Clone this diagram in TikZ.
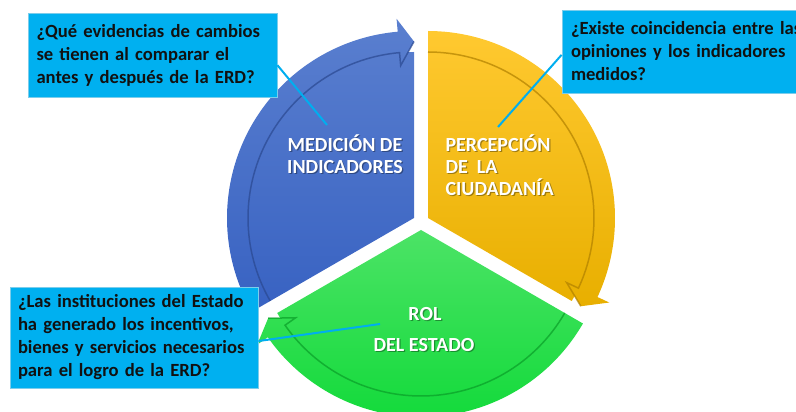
\documentclass[tikz,border=0pt]{standalone}
\usepackage{fontspec}
\setmainfont{Carlito}
\usetikzlibrary{calc}
\definecolor{cyanbox}{HTML}{00B0F0}
\definecolor{cyanedge}{HTML}{7CCDEB}
\definecolor{cyanline}{HTML}{00AEEF}
\definecolor{blueT}{HTML}{5A7FCF}
\definecolor{blueB}{HTML}{3862C2}
\definecolor{blueE}{HTML}{2A4890}
\definecolor{yellowT}{HTML}{FFC930}
\definecolor{yellowB}{HTML}{E8AF00}
\definecolor{yellowE}{HTML}{B08000}
\definecolor{greenT}{HTML}{4CE366}
\definecolor{greenB}{HTML}{12DA3A}
\definecolor{greenE}{HTML}{0A9E28}
\definecolor{boxtext}{HTML}{111111}
\tikzset{
  callout/.style={fill=cyanbox, draw=cyanedge, line width=0.8pt, text=boxtext,
    font=\bfseries\fontsize{18.6}{23}\selectfont, align=left, text width=232pt,
    inner ysep=4pt},
  calloutline/.style={draw=cyanline, line width=2pt},
  seglabel/.style={text=white, font=\bfseries\fontsize{20}{22}\selectfont},
  seglabelshadow/.style={text=black, opacity=0.35, font=\bfseries\fontsize{20}{22}\selectfont},
  edgeline/.style={line width=1.5pt, opacity=0.7},
}
\begin{document}
\begin{tikzpicture}[x=1pt,y=1pt]
\useasboundingbox (0,0) rectangle (796,412);
\clip (0,0) rectangle (796,412);
\coordinate (B) at (414,194);
\coordinate (Yv) at (428,194);
\coordinate (G) at (421,182);

% blue segment (arrow at 90 deg)
\shade[top color=blueT, bottom color=blueB]
  (B) -- ($(B)+(90:166)$) arc[start angle=90,end angle=210,radius=166] -- cycle
  ($(B)+(95:187)$) arc[start angle=95,end angle=210,radius=187]
  -- ($(B)+(210:166)$) arc[start angle=210,end angle=95,radius=166]
  -- ($(B)+(95:153)$) -- ($(B)+(90:176.5)$) -- ($(B)+(95:200)$) -- cycle;
\draw[edgeline, blueE] ($(B)+(210:166)$) arc[start angle=210,end angle=95,radius=166]
  -- ($(B)+(95:153)$) -- ($(B)+(90:176.5)$);

% yellow segment (arrow at -30 deg)
\shade[top color=yellowT, bottom color=yellowB]
  (Yv) -- ($(Yv)+(-30:166)$) arc[start angle=-30,end angle=90,radius=166] -- cycle
  ($(Yv)+(-25:187)$) arc[start angle=-25,end angle=90,radius=187]
  -- ($(Yv)+(90:166)$) arc[start angle=90,end angle=-25,radius=166]
  -- ($(Yv)+(-25:153)$) -- ($(Yv)+(-30:176.5)$) -- ($(Yv)+(-25:200)$) -- cycle;
\draw[edgeline, yellowE] ($(Yv)+(90:166)$) arc[start angle=90,end angle=-25,radius=166]
  -- ($(Yv)+(-25:153)$) -- ($(Yv)+(-30:176.5)$);

% green segment (arrow at 210 deg)
\shade[top color=greenT, bottom color=greenB]
  (G) -- ($(G)+(210:166)$) arc[start angle=210,end angle=330,radius=166] -- cycle
  ($(G)+(215:187)$) arc[start angle=215,end angle=330,radius=187]
  -- ($(G)+(330:166)$) arc[start angle=330,end angle=215,radius=166]
  -- ($(G)+(215:153)$) -- ($(G)+(210:176.5)$) -- ($(G)+(215:200)$) -- cycle;
\draw[edgeline, greenE] ($(G)+(330:166)$) arc[start angle=330,end angle=215,radius=166]
  -- ($(G)+(215:153)$) -- ($(G)+(210:176.5)$);

% segment labels
\node[seglabelshadow, align=center] (m1s) at (346.2,256.8) {MEDICIÓN DE\\INDICADORES};
\node[seglabel, align=center] (m1) at (345,258) {MEDICIÓN DE\\INDICADORES};
\node[seglabelshadow, align=left, anchor=west] (p1s) at (443.2,245.8) {PERCEPCIÓN\\DE\ \ LA\\CIUDADANÍA};
\node[seglabel, align=left, anchor=west] (p1) at (442,247) {PERCEPCIÓN\\DE\ \ LA\\CIUDADANÍA};
\node[seglabelshadow] (r1s) at (426.2,96.8) {ROL};
\node[seglabel] (r1) at (425,98) {ROL};
\node[seglabelshadow] (r2s) at (425.2,65.8) {DEL ESTADO};
\node[seglabel] (r2) at (424,67) {DEL ESTADO};

% callout boxes
\node[callout, inner xsep=8.5pt, minimum height=84pt] (box1) at (152.5,357)
  {¿Qué evidencias de cambios\\se tienen al comparar el\\antes y después de la ERD?};
\node[callout, text width=262pt, inner xsep=9pt, minimum height=83pt] (box2) at (702,360.5)
  {¿Existe coincidencia entre las\\opiniones y los indicadores\\medidos?};
\node[callout, inner xsep=8pt, minimum height=101pt] (box3) at (134,74.5)
  {¿Las instituciones del Estado\\ha generado los incentivos,\\bienes y servicios necesarios\\para el logro de la ERD?};

% callout connectors
\coordinate (t1) at (327,287);
\coordinate (t2) at (498,285);
\coordinate (t3) at (380,88);
\draw[calloutline] ($(box1.south east)!0.38!(box1.north east)$) -- (t1);
\draw[calloutline] ($(box2.south west)!0.46!(box2.north west)$) -- (t2);
\draw[calloutline] ($(box3.south east)!0.465!(box3.north east)$) -- (t3);
\end{tikzpicture}
\end{document}
